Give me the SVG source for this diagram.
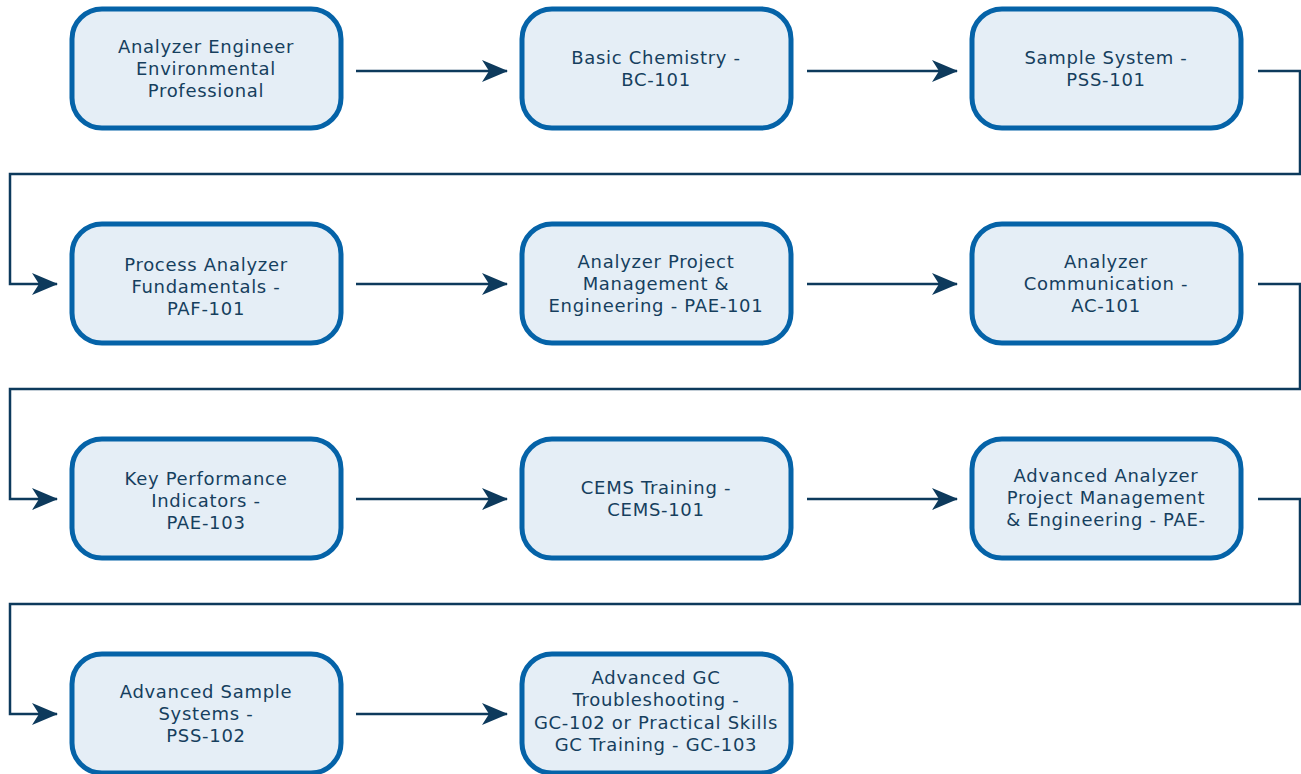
<svg xmlns="http://www.w3.org/2000/svg" width="1301" height="774" viewBox="0 0 1301 774">
<style>
.box{fill:#e5eef6;stroke:#0563a8;stroke-width:5}
.t{font-family:"DejaVu Sans",Verdana,sans-serif;font-size:18px;fill:#163f5e;text-anchor:middle;letter-spacing:0.7px}
.c{fill:none;stroke:#0d3a5c;stroke-width:2.5}
</style>
<defs>
<marker id="ah" markerUnits="userSpaceOnUse" viewBox="0 0 26 22" refX="25" refY="11" markerWidth="26" markerHeight="22" orient="auto">
<path d="M0,0 L26,11 L0,22 L7,11 Z" fill="#0d3a5c"/>
</marker>
</defs>
<g id="connectors">
<path class="c" d="M356,71 H507" marker-end="url(#ah)"/>
<path class="c" d="M807,71 H957" marker-end="url(#ah)"/>
<path class="c" d="M1258,71 H1300 V174 H10 V284 H57" marker-end="url(#ah)"/>
<path class="c" d="M356,284 H507" marker-end="url(#ah)"/>
<path class="c" d="M807,284 H957" marker-end="url(#ah)"/>
<path class="c" d="M1258,284 H1300 V389 H10 V499 H57" marker-end="url(#ah)"/>
<path class="c" d="M356,499 H507" marker-end="url(#ah)"/>
<path class="c" d="M807,499 H957" marker-end="url(#ah)"/>
<path class="c" d="M1258,499 H1300 V604 H10 V714 H57" marker-end="url(#ah)"/>
<path class="c" d="M356,714 H507" marker-end="url(#ah)"/>
</g>
<g id="n1"><rect class="box" x="72" y="9" width="269" height="119" rx="30"/>
<text class="t" x="206"><tspan x="206" y="53">Analyzer Engineer</tspan><tspan x="206" y="75">Environmental</tspan><tspan x="206" y="97">Professional</tspan></text></g>
<g id="n2"><rect class="box" x="522" y="9" width="269" height="119" rx="30"/>
<text class="t"><tspan x="656" y="64">Basic Chemistry -</tspan><tspan x="656" y="86">BC-101</tspan></text></g>
<g id="n3"><rect class="box" x="972" y="9" width="269" height="119" rx="30"/>
<text class="t"><tspan x="1106" y="64">Sample System -</tspan><tspan x="1106" y="86">PSS-101</tspan></text></g>
<g id="n4"><rect class="box" x="72" y="224" width="269" height="119" rx="30"/>
<text class="t"><tspan x="206" y="271">Process Analyzer</tspan><tspan x="206" y="293">Fundamentals -</tspan><tspan x="206" y="315">PAF-101</tspan></text></g>
<g id="n5"><rect class="box" x="522" y="224" width="269" height="119" rx="30"/>
<text class="t"><tspan x="656" y="268">Analyzer Project</tspan><tspan x="656" y="290">Management &amp;</tspan><tspan x="656" y="312">Engineering - PAE-101</tspan></text></g>
<g id="n6"><rect class="box" x="972" y="224" width="269" height="119" rx="30"/>
<text class="t"><tspan x="1106" y="268">Analyzer</tspan><tspan x="1106" y="290">Communication -</tspan><tspan x="1106" y="312">AC-101</tspan></text></g>
<g id="n7"><rect class="box" x="72" y="439" width="269" height="119" rx="30"/>
<text class="t"><tspan x="206" y="485">Key Performance</tspan><tspan x="206" y="507">Indicators -</tspan><tspan x="206" y="529">PAE-103</tspan></text></g>
<g id="n8"><rect class="box" x="522" y="439" width="269" height="119" rx="30"/>
<text class="t"><tspan x="656" y="494">CEMS Training -</tspan><tspan x="656" y="516">CEMS-101</tspan></text></g>
<g id="n9"><rect class="box" x="972" y="439" width="269" height="119" rx="30"/>
<text class="t"><tspan x="1106" y="482">Advanced Analyzer</tspan><tspan x="1106" y="504">Project Management</tspan><tspan x="1106" y="526">&amp; Engineering - PAE-</tspan></text></g>
<g id="n10"><rect class="box" x="72" y="654" width="269" height="119" rx="30"/>
<text class="t"><tspan x="206" y="698">Advanced Sample</tspan><tspan x="206" y="720">Systems -</tspan><tspan x="206" y="742">PSS-102</tspan></text></g>
<g id="n11"><rect class="box" x="522" y="654" width="269" height="119" rx="30"/>
<text class="t"><tspan x="656" y="684">Advanced GC</tspan><tspan x="656" y="706">Troubleshooting -</tspan><tspan x="656" y="729">GC-102 or Practical Skills</tspan><tspan x="656" y="751">GC Training - GC-103</tspan></text></g>
</svg>
